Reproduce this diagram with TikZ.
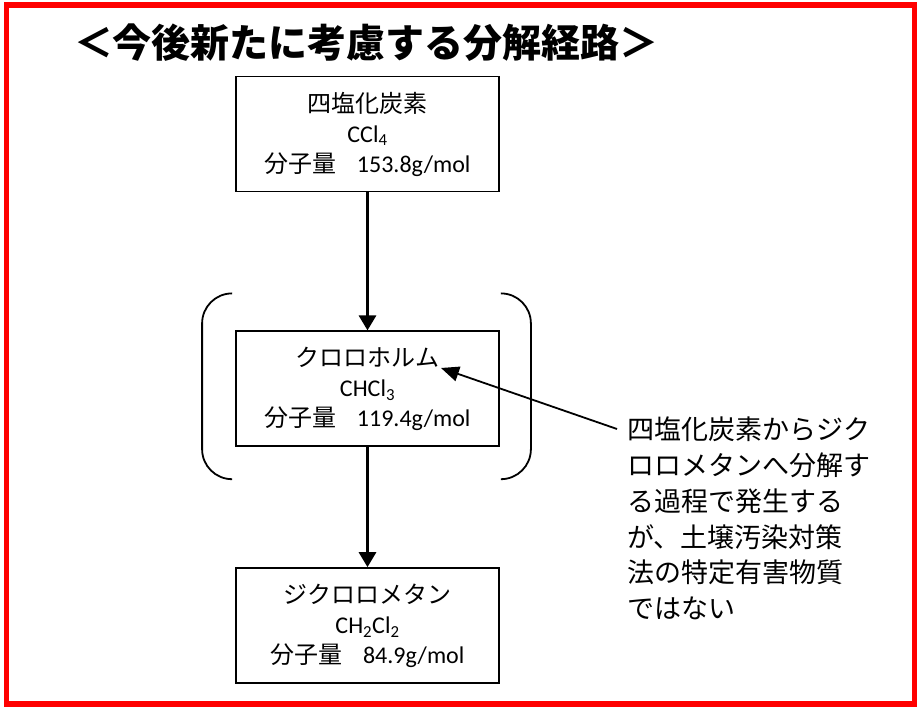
\documentclass[tikz,border=0pt]{standalone}
\usepackage{fontspec}
\setmainfont{Carlito}
\newfontfamily\jp{Noto Sans CJK JP}
\usetikzlibrary{
  arrows.meta,
  positioning,
  calc
}

\begin{document}
\begin{tikzpicture}[
  x=1pt, y=1pt,
  node distance=138pt,
  chembox/.style={
    rectangle, draw=black, line width=1.8pt,
    minimum width=263pt, minimum height=115pt,
    inner sep=0pt, align=center,
    font=\fontsize{24}{30}\selectfont
  },
  notetext/.style={
    inner sep=0pt, align=left,
    font=\jp\fontsize{27}{35.7}\selectfont
  },
  flow/.style={
    -{Triangle[length=15pt, width=17pt]}, line width=3pt
  },
  pointer/.style={
    -{Triangle[length=18pt, width=15pt]}, line width=1.8pt
  },
  paren/.style={
    line width=1.8pt, rounded corners=30pt
  }
]
  \useasboundingbox (0,0) rectangle (922,707);

  % Frame and title
  \draw[red, line width=5.5pt] (6.5,3) rectangle (914.5,702);
  \node[font=\jp\bfseries\fontsize{39}{39}\selectfont] (title)
    at (366.5,664) {＜今後新たに考慮する分解経路＞};

  % Decomposition path
  \node[chembox] (ccl) at (367.5,573)
    {{\jp 四塩化炭素}\\CCl\textsubscript{4}\\{\jp 分子量}\hspace{0.85em}153.8g/mol};
  \node[chembox, below=of ccl] (chcl)
    {{\jp クロロホルム}\\CHCl\textsubscript{3}\\{\jp 分子量}\hspace{0.85em}119.4g/mol};
  \node[chembox, below=120pt of chcl] (chcl2)
    {{\jp ジクロロメタン}\\CH\textsubscript{2}Cl\textsubscript{2}\\{\jp 分子量}\hspace{0.85em}84.9g/mol};

  \draw[flow] (ccl) -- (chcl);
  \draw[flow] (chcl) -- (chcl2);

  % Brackets round chloroform
  \draw[paren] ($(chcl.north west)+(-3,37)$) -- ++(-30,0)
    -- ($(chcl.south west)+(-33,-32)$) -- ++(30,0);
  \draw[paren] ($(chcl.north east)+(1,37)$) -- ++(30,0)
    -- ($(chcl.south east)+(31,-32)$) -- ++(-30,0);

  % Note
  \node[notetext, anchor=north west] (note) at (627,290)
    {四塩化炭素からジク\\ロロメタンへ分解す\\る過程で発生する\\が、土壌汚染対策\\法の特定有害物質\\ではない};
  \coordinate (tail) at ($(note.north west)+(-10,-12)$);
  \coordinate (tip) at (441,339);
  \draw[pointer] (tail) -- (tip);
\end{tikzpicture}
\end{document}
